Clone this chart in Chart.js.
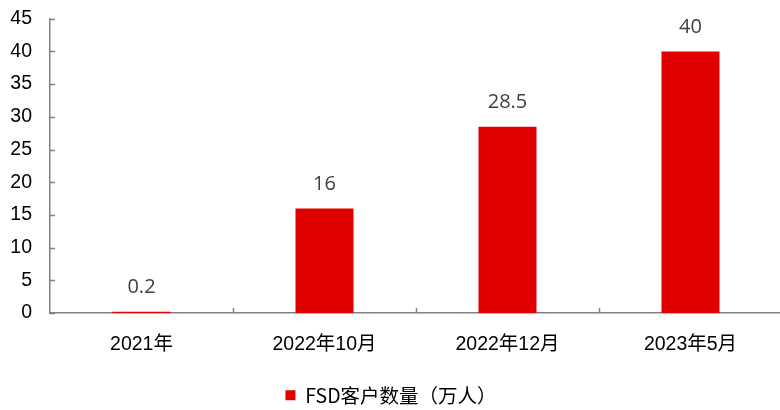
<!DOCTYPE html>
<html><head><meta charset="utf-8">
<script src="https://cdn.jsdelivr.net/npm/chart.js@4.4.0/dist/chart.umd.min.js"></script>
<style>html,body{margin:0;padding:0;overflow:hidden;background:#fff;width:780px;height:410px}canvas{display:block;margin-top:-11px}</style>
</head><body>
<canvas id="c" width="790" height="428"></canvas>
<script>
const categories = ["2021年", "2022年10月", "2022年12月", "2023年5月"];
const fsdCustomers = [0.2, 16, 28.5, 40];
const valueLabels = ["0.2", "16", "28.5", "40"];
const seriesName = "FSD客户数量（万人）";

const barColor = "#E00000";
const axisColor = "#808080";
const latinCjk = "'Liberation Sans', 'Noto Sans CJK SC', sans-serif";

const decor = {
  id: "decor",
  afterDatasetsDraw(chart) {
    const ctx = chart.ctx;
    const x = chart.scales.x, y = chart.scales.y;
    const area = chart.chartArea;
    ctx.save();
    ctx.strokeStyle = axisColor;
    ctx.lineWidth = 1.5;
    y.ticks.forEach((t, i) => {
      const py = Math.round(y.getPixelForTick(i)) + 0.5;
      ctx.beginPath(); ctx.moveTo(area.left, py); ctx.lineTo(area.left + 5, py); ctx.stroke();
    });
    for (let i = 0; i < categories.length - 1; i++) {
      const px = Math.round((x.getPixelForValue(i) + x.getPixelForValue(i + 1)) / 2) + 0.5;
      ctx.beginPath(); ctx.moveTo(px, area.bottom); ctx.lineTo(px, area.bottom - 5); ctx.stroke();
    }
    const meta = chart.getDatasetMeta(0);
    ctx.fillStyle = "#404040";
    ctx.font = "20px 'Open Sans', sans-serif";
    ctx.textAlign = "center";
    ctx.textBaseline = "middle";
    meta.data.forEach((bar, i) => {
      ctx.fillText(valueLabels[i], bar.x, bar.y - 24);
    });
    ctx.restore();
  }
};

new Chart(document.getElementById("c"), {
  type: "bar",
  data: {
    labels: categories,
    datasets: [{
      label: seriesName,
      data: fsdCustomers,
      backgroundColor: barColor,
      borderWidth: 0,
      barPercentage: 0.317,
      categoryPercentage: 1.0
    }]
  },
  options: {
    responsive: false,
    animation: false,
    layout: { padding: { left: 0, right: 8, top: 0, bottom: 2 } },
    plugins: {
      tooltip: { enabled: false },
      legend: {
        position: "bottom",
        labels: {
          boxWidth: 10, boxHeight: 10, padding: 9,
          color: "#000",
          font: { size: 19.5, family: "'Noto Sans CJK SC', sans-serif" }
        }
      }
    },
    scales: {
      x: {
        grid: { display: false, drawTicks: false },
        border: { color: axisColor, width: 1.5 },
        ticks: { color: "#000", padding: 20, font: { size: 19.5, family: latinCjk } }
      },
      y: {
        min: 0, max: 45,
        afterFit(scale) { scale.width = 50; },
        grid: { display: false, drawTicks: false },
        border: { color: axisColor, width: 1.5 },
        ticks: { stepSize: 5, color: "#000", padding: 18, font: { size: 19.5, family: "'Liberation Sans', sans-serif" } }
      }
    }
  },
  plugins: [decor]
});
</script>
</body></html>
